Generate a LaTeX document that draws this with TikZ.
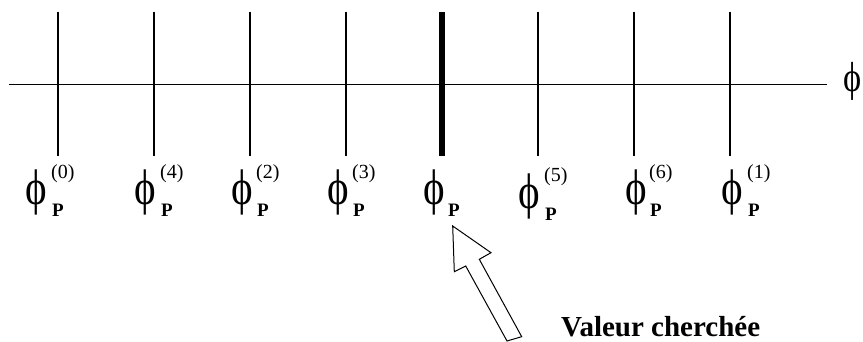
\documentclass[tikz,border=0pt]{standalone}
\usepackage{fontspec}
\setmainfont{Liberation Serif}
\newcommand{\narrowphi}{\scalebox{0.82}[1]{ϕ}}
\begin{document}
\begin{tikzpicture}[x=1pt,y=1pt,
  axisline/.style={line width=1.2pt},
  tickline/.style={line width=1.2pt},
  boldtick/.style={line width=5.5pt},
  phil/.style={inner sep=0pt, anchor=base west, font=\fontsize{50}{50}\selectfont},
  supl/.style={inner sep=0pt, anchor=base west, font=\fontsize{20}{20}\selectfont},
  subl/.style={inner sep=0pt, anchor=base west, font=\fontsize{19}{19}\selectfont\bfseries},
  blockarrow/.style={line width=1pt, fill=white, line join=miter},
]
\useasboundingbox (0,0) rectangle (863,342);
% axis
\coordinate (axL) at (9,257.7);
\coordinate (axR) at (827,257.7);
\draw[axisline] (axL) -- (axR);
\node[phil, anchor=base west, font=\fontsize{42}{42}\selectfont] (phiaxis) at (843,250) {\narrowphi};
% ticks
\foreach \i/\x in {0/58,4/154,2/250,3/346,6/634,1/730,5/538}{
  \coordinate (t\i) at (\x,330);
  \coordinate (b\i) at (\x,186);
  \draw[tickline] (t\i) -- (b\i);
}
\coordinate (tm) at (442,330);
\coordinate (bm) at (442,186);
\draw[boldtick] (tm) -- (bm);
% labels
\foreach \i/\px/\sx/\sy/\by in {0/25/51/163/125, 4/134/160/163/125, 2/231/256/163/125, 3/327/352/163/125, 5/518/544/160/121.5, 6/625/649/163/125, 1/721/747/163/125}{
  \node[phil] (phi\i) at (\px,\by+12) {\narrowphi};
  \node[supl] (sup\i) at (\sx,\sy) {(\i)};
  \node[subl] (sub\i) at (\sx+1,\by) {P};
}
\node[phil] (phim) at (423,137) {\narrowphi};
\node[subl] (subm) at (448,125) {P};
% arrow
\coordinate (atip) at (452.7,116);
\coordinate (ahl) at (454.3,70.3);
\coordinate (ail) at (465.7,76);
\coordinate (abl) at (507,1);
\coordinate (abr) at (521.7,5.3);
\coordinate (air) at (479.3,82.7);
\coordinate (ahr) at (491,89.3);
\draw[blockarrow] (atip) -- (ahl) -- (ail) -- (abl) -- (abr) -- (air) -- (ahr) -- cycle;
\node[inner sep=0pt, anchor=base west, font=\fontsize{29}{29}\selectfont\bfseries] (val) at (561,5) {Valeur cherchée};
\end{tikzpicture}
\end{document}
